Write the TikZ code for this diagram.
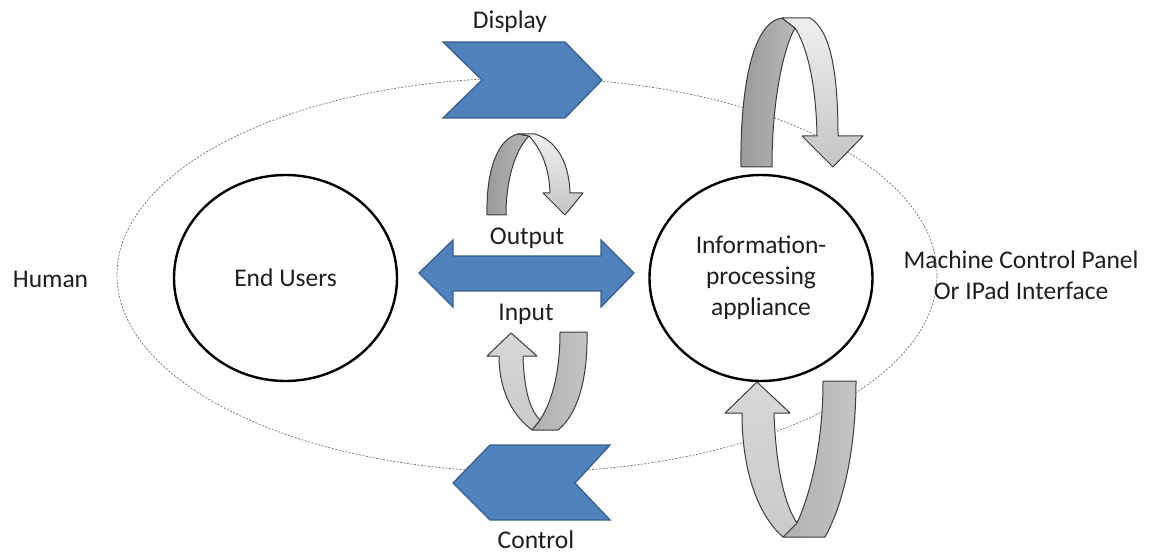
\documentclass[tikz,border=0pt]{standalone}
\usepackage{fontspec}
\setmainfont{Carlito}
\usetikzlibrary{shapes.geometric}
\definecolor{txt}{HTML}{1E1E1E}
\definecolor{blufill}{HTML}{4F81BD}
\definecolor{bluline}{HTML}{3A5F8B}
\definecolor{arrline}{HTML}{3C3C3C}
\definecolor{darkA}{HTML}{9A9A9A}
\definecolor{darkB}{HTML}{B8B8B8}
\definecolor{midA}{HTML}{B0B0B0}
\definecolor{midB}{HTML}{C4C4C4}
\definecolor{lightA}{HTML}{F0F0F0}
\definecolor{lightB}{HTML}{C4C4C4}
\definecolor{paleA}{HTML}{D8D8D8}
\definecolor{paleB}{HTML}{CACACA}
\tikzset{
  lbl/.style={font=\fontsize{25.5}{31}\selectfont, text=txt, inner sep=0pt},
  bigcirc/.style={draw=black, line width=2.4pt, ellipse, minimum width=223pt, minimum height=206pt, inner sep=0pt, lbl},
  dashring/.style={draw=black!55, line width=0.7pt, dash pattern=on 2pt off 1.5pt},
  bluearrow/.style={fill=blufill, draw=bluline, line width=1.3pt, line join=miter},
  darkpart/.style 2 args={draw=arrline, line width=1pt, line join=round, left color=#1, right color=#2},
  lightpart/.style 2 args={draw=arrline, line width=1pt, line join=round, top color=#1, bottom color=#2},
}
\begin{document}
\begin{tikzpicture}[x=1pt,y=-1pt]
\useasboundingbox (0,0) rectangle (1159,553);
% outer dashed ring
\draw[dashring] (527,275) ellipse [x radius=410pt, y radius=197pt];

% circles
\node[bigcirc] (users) at (285.5,278) {End Users};
\node[bigcirc, align=center] (appl) at (761,278) {Information-\\processing\\appliance};

% labels
\node[lbl, anchor=base] (human) at (50.5,288) {Human};
\node[lbl, align=center] (mcp) at (1021,275) {Machine Control Panel\\Or IPad Interface};
\node[lbl, anchor=base] (display) at (510,29) {Display};
\node[lbl, anchor=base] (control) at (536,548) {Control};
\node[lbl, anchor=base] (output) at (527,245) {Output};
\node[lbl, anchor=base] (input) at (526,320.5) {Input};

% Display chevron
\path[bluearrow] (443,42) -- (565,42) -- (602,80) -- (565,118) -- (443,118) -- (482,80) -- cycle;
% Control chevron
\path[bluearrow] (453,483) -- (490,445) -- (610,445) -- (575,483) -- (610,520) -- (490,520) -- cycle;
% double arrow
\path[bluearrow] (419,273) -- (453,240) -- (453,256) -- (601,256) -- (601,240) -- (634,273)
  -- (601,307) -- (601,291) -- (453,291) -- (453,307) -- cycle;

% large top curved arrow
\path[darkpart={darkA}{darkB}] (741,167) .. controls (740,90) and (752,22) .. (782,18) -- (795,28)
  .. controls (785,45) and (772,95) .. (772,167) -- cycle;
\path[lightpart={lightA}{lightB}] (782,18) -- (810,18) .. controls (830,30) and (838,70) .. (838,136)
  -- (863,136) -- (833,167) -- (802,136) -- (817,136) .. controls (816,80) and (806,45) .. (795,28) -- cycle;

% large bottom curved arrow
\path[darkpart={midA}{midB}] (823,381) -- (856,381) .. controls (856,450) and (843,505) .. (825,537)
  -- (783,537) -- (797,523) .. controls (812,490) and (823,440) .. (823,381) -- cycle;
\path[lightpart={paleA}{paleB}] (757,382) -- (790,413) -- (774,413) .. controls (776,470) and (785,505) .. (797,523)
  -- (783,537) .. controls (763,520) and (742,480) .. (742,413) -- (725,413) -- cycle;

% small top curved arrow
\path[darkpart={darkA}{darkB}] (487,215) .. controls (486,165) and (500,138) .. (518,134) -- (529,136)
  .. controls (515,150) and (506,180) .. (506,215) -- cycle;
\path[lightpart={lightA}{lightB}] (518,134) -- (535,134) .. controls (555,140) and (569,160) .. (570,193)
  -- (583,193) -- (565,215) -- (543,193) -- (550,193) .. controls (549,165) and (540,148) .. (529,136) -- cycle;

% small bottom curved arrow
\path[darkpart={midA}{midB}] (560,332) -- (587,332) .. controls (588,380) and (577,415) .. (558,430)
  -- (532,430) -- (540,420) .. controls (553,400) and (560,370) .. (560,332) -- cycle;
\path[lightpart={paleA}{paleB}] (511,333) -- (537,356) -- (523,356) .. controls (524,390) and (530,410) .. (540,420)
  -- (532,430) .. controls (512,415) and (499,390) .. (499,356) -- (487,356) -- cycle;
\end{tikzpicture}
\end{document}
